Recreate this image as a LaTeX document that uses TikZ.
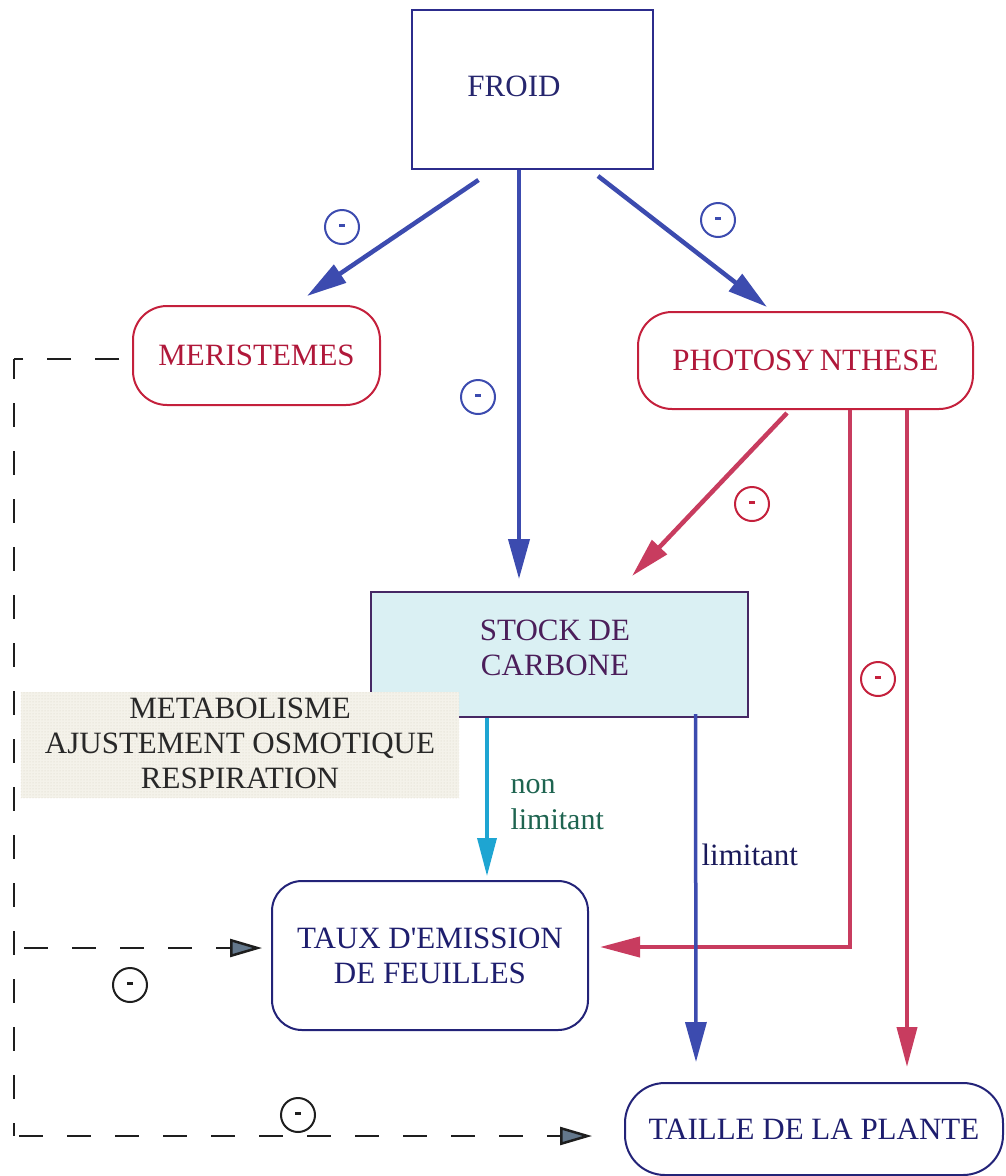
\documentclass[tikz,border=0pt]{standalone}
\usepackage{fontspec}
\setmainfont{Liberation Serif}
\usetikzlibrary{arrows.meta,calc,patterns}
\definecolor{froidln}{RGB}{44,44,140}
\definecolor{froidtx}{RGB}{38,38,110}
\definecolor{arrblue}{RGB}{60,75,175}
\definecolor{boxred}{RGB}{196,32,60}
\definecolor{txtred}{RGB}{176,24,58}
\definecolor{arrred}{RGB}{200,60,95}
\definecolor{stockfill}{RGB}{218,240,243}
\definecolor{stockln}{RGB}{70,40,100}
\definecolor{stocktx}{RGB}{75,30,90}
\definecolor{metfill}{RGB}{244,242,234}
\definecolor{metdot}{RGB}{215,210,195}
\definecolor{mettx}{RGB}{40,40,40}
\definecolor{arrcyan}{RGB}{30,165,210}
\definecolor{greentx}{RGB}{30,100,80}
\definecolor{navyln}{RGB}{35,35,120}
\definecolor{navytx}{RGB}{30,30,110}
\definecolor{limtx}{RGB}{25,25,90}
\definecolor{dashcol}{RGB}{30,30,30}
\definecolor{dashhead}{RGB}{100,120,140}
\begin{document}
\begin{tikzpicture}[x=1pt,y=-1pt,
  bigtxt/.style={font=\fontsize{31}{35}\selectfont},
  sqbox/.style={rectangle, line width=2pt, inner sep=0pt, bigtxt, align=center},
  rbox/.style={rectangle, rounded corners=34pt, line width=2pt, inner sep=0pt, bigtxt, align=center},
  arrbl/.style={draw=arrblue, line width=4.5pt, -{Triangle[length=40pt,width=21pt,fill=arrblue]}},
  arrrd/.style={draw=arrred, line width=4.5pt, -{Triangle[length=40pt,width=20pt,fill=arrred]}},
  dashln/.style={draw=dashcol, line width=2.5pt, dash pattern=on 24pt off 24pt},
  dashar/.style={dashln, -{Triangle[length=32pt,width=18pt,fill=dashhead]}},
  mcirc/.style={circle, draw=#1, line width=2pt, minimum size=34pt, inner sep=0pt, text=#1}
]
\useasboundingbox (0,0) rectangle (1005,1176);

% nodes
\node[sqbox, draw=froidln, minimum width=241pt, minimum height=159pt] (froid) at (532.5,89.5) {};
\node[bigtxt, text=froidtx] (froidt) at (514,86) {FROID};
\node[rbox, draw=boxred, text=txtred, minimum width=247pt, minimum height=99pt] (meri) at (256.5,355.5) {MERISTEMES};
\node[rbox, draw=boxred, text=txtred, minimum width=335pt, minimum height=97pt] (photo) at (805.5,360.5) {PHOTOSY\hspace{5pt}NTHESE};
\node[sqbox, draw=stockln, fill=stockfill, text=stocktx, minimum width=377pt, minimum height=125pt] (stock) at (559.5,654.5) {};
\node[bigtxt, text=stocktx, align=center] (stockt) at (555,648) {STOCK DE\\CARBONE};
\node[rectangle, fill=metfill, inner sep=0pt, minimum width=438pt, minimum height=106pt] (metab) at (240,745) {};
\fill[pattern=dots, pattern color=metdot] (metab.north west) rectangle (metab.south east);
\node[text=mettx, bigtxt, align=center] (metabt) at (240,743) {METABOLISME\\AJUSTEMENT OSMOTIQUE\\RESPIRATION};
\node[rbox, draw=navyln, text=navytx, minimum width=316pt, minimum height=149pt, rounded corners=30pt] (taux) at (430,955.5) {TAUX D\textquotesingle EMISSION\\DE FEUILLES};
\node[rbox, draw=navyln, text=navytx, minimum width=378pt, minimum height=92pt, rounded corners=40pt] (taille) at (814,1129) {TAILLE DE LA PLANTE};

% labels
\node[bigtxt, text=greentx, anchor=west, align=left, font=\fontsize{30}{36}\selectfont] (nonlim) at (507,805) {non\\limitant};
\node[bigtxt, text=limtx, anchor=west] (lim) at (698,855) {limitant};

% solid connectors
\draw[arrbl] ($(froid.south)+(-54,10)$) -- ($(meri.north)+(50.5,-9)$);
\draw[arrbl, line width=4pt] ($(froid.south)+(-13.5,0)$) -- ($(stock.north)+(-40.5,-12)$);
\draw[arrbl] ($(froid.south)+(65.5,6)$) -- ($(photo.north)+(-38.5,-4)$);
\draw[arrrd] ($(photo.south)+(-18.5,3)$) -- ($(stock.north)+(72.5,-15)$);
\draw[arrrd, line width=4pt] ($(photo.south)+(44.5,0)$) |- ($(taux.east)+(11,-8.5)$);
\draw[arrrd, line width=4pt] ($(photo.south)+(101.5,0)$) -- ($(taille.north)+(93,-15)$);
\draw[draw=arrcyan, line width=3.5pt, -{Triangle[length=38pt,width=19pt,fill=arrcyan]}] ($(stock.south)+(-72.5,0)$) -- ($(taux.north)+(57,-4)$);
\draw[arrbl, line width=3.5pt] ($(stock.south)+(136,-4)$) -- ($(taille.north)+(-118,-20)$);

% dashed feedback
\coordinate (dtop) at (14,359);
\coordinate (dmid) at (14,948);
\coordinate (dbot) at (14,1136);
\draw[dashln] ($(meri.west)+(-13,3.5)$) -- (dtop);
\draw[dashln, dash phase=4pt] (dtop) -- (dbot);
\draw[dashar, dash phase=-10pt] (dmid) -- ($(taux.west)+(-9,-7.5)$);
\draw[dashar, dash phase=-5pt] (dbot) -- ($(taille.west)+(-32,7)$);

% minus circles
\node[mcirc=arrblue] (m1) at (342,227) {\rule[4pt]{6pt}{3pt}};
\node[mcirc=arrblue] (m2) at (718,220) {\rule[4pt]{6pt}{3pt}};
\node[mcirc=arrblue] (m3) at (478,397) {\rule[4pt]{6pt}{3pt}};
\node[mcirc=boxred] (m4) at (752,504) {\rule[4pt]{6pt}{3pt}};
\node[mcirc=boxred] (m5) at (878,679) {\rule[4pt]{6pt}{3pt}};
\node[mcirc=dashcol] (m6) at (130,985) {\rule[4pt]{6pt}{3pt}};
\node[mcirc=dashcol] (m7) at (298,1115) {\rule[4pt]{6pt}{3pt}};
\end{tikzpicture}
\end{document}
